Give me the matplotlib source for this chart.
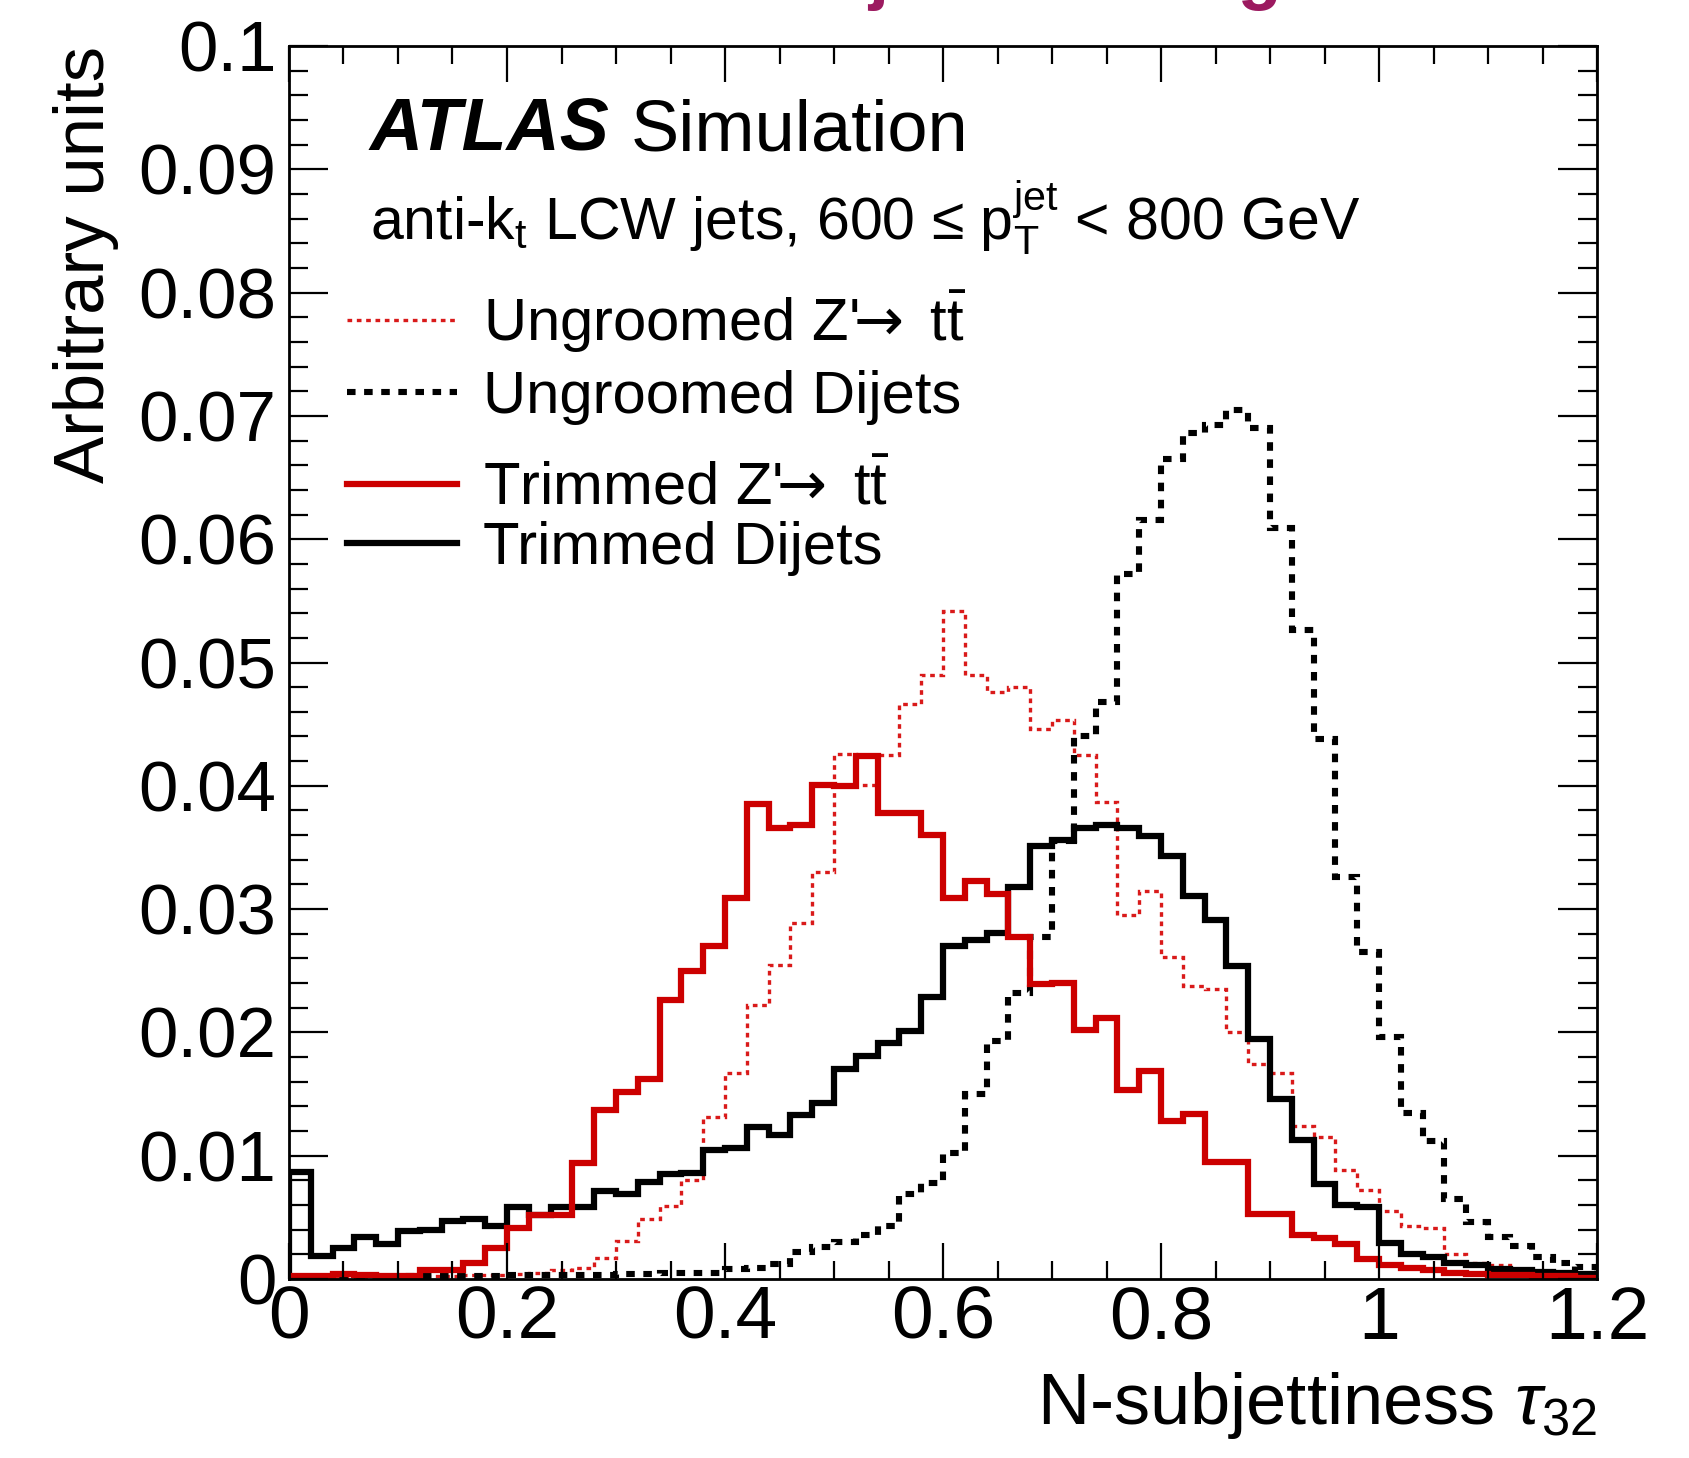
"""ATLAS simulation: N-subjettiness tau32 for trimmed and ungroomed jets"""

import numpy as np
import matplotlib
matplotlib.use('Agg')
import matplotlib.pyplot as plt
from matplotlib.lines import Line2D
from matplotlib.ticker import MultipleLocator, FuncFormatter

plt.rcParams['font.family'] = ['Liberation Sans', 'DejaVu Sans']
plt.rcParams['mathtext.fontset'] = 'custom'
plt.rcParams['mathtext.rm'] = 'Liberation Sans'
plt.rcParams['mathtext.it'] = 'Liberation Sans:italic'
plt.rcParams['mathtext.bf'] = 'Liberation Sans:bold'
plt.rcParams['mathtext.sf'] = 'DejaVu Sans'  # used for the arrow only

# 60 bins of width 0.02 in tau32
bin_edges = np.linspace(0.0, 1.2, 61)

trimmed_dijets = [
    0.0087, 0.0019, 0.0025, 0.0034, 0.0028, 0.0039, 0.0040, 0.0047, 0.0049, 0.0043,
    0.0058, 0.0052, 0.0058, 0.0058, 0.0071, 0.0069, 0.0079, 0.0085, 0.0086, 0.0105,
    0.0106, 0.0123, 0.0117, 0.0133, 0.0143, 0.0170, 0.0181, 0.0191, 0.0201, 0.0229,
    0.0270, 0.0275, 0.0281, 0.0318, 0.0351, 0.0356, 0.0366, 0.0368, 0.0366, 0.0359,
    0.0343, 0.0311, 0.0291, 0.0254, 0.0195, 0.0146, 0.0113, 0.0077, 0.0060, 0.0058,
    0.0029, 0.0020, 0.0018, 0.0013, 0.0011, 0.0008, 0.0007, 0.0006, 0.0005, 0.0004,
]

trimmed_zprime = [
    0.0002, 0.0002, 0.0004, 0.0003, 0.0002, 0.0002, 0.0007, 0.0007, 0.0013, 0.0025,
    0.0041, 0.0052, 0.0052, 0.0094, 0.0137, 0.0152, 0.0162, 0.0226, 0.0250, 0.0270,
    0.0309, 0.0385, 0.0366, 0.0368, 0.0401, 0.0400, 0.0424, 0.0378, 0.0378, 0.0360,
    0.0309, 0.0323, 0.0312, 0.0277, 0.0239, 0.0240, 0.0202, 0.0212, 0.0153, 0.0169,
    0.0128, 0.0134, 0.0095, 0.0095, 0.0053, 0.0053, 0.0036, 0.0033, 0.0028, 0.0016,
    0.0011, 0.0009, 0.0007, 0.0005, 0.0004, 0.0003, 0.0003, 0.0002, 0.0002, 0.0001,
]

ungroomed_zprime = [
    0.0001, 0.0001, 0.0001, 0.0001, 0.0001, 0.0002, 0.0002, 0.0002, 0.0003, 0.0003,
    0.0004, 0.0005, 0.0007, 0.0009, 0.0017, 0.0031, 0.0049, 0.0059, 0.0080, 0.0131,
    0.0167, 0.0222, 0.0255, 0.0289, 0.0330, 0.0426, 0.0401, 0.0425, 0.0466, 0.0490,
    0.0542, 0.0490, 0.0476, 0.0480, 0.0446, 0.0453, 0.0425, 0.0387, 0.0295, 0.0315,
    0.0261, 0.0238, 0.0235, 0.0200, 0.0174, 0.0167, 0.0124, 0.0115, 0.0088, 0.0072,
    0.0055, 0.0043, 0.0041, 0.0020, 0.0013, 0.0011, 0.0008, 0.0006, 0.0004, 0.0003,
]

ungroomed_dijets = [
    0.0001, 0.0001, 0.0001, 0.0001, 0.0001, 0.0002, 0.0002, 0.0002, 0.0002, 0.0002,
    0.0003, 0.0003, 0.0003, 0.0003, 0.0003, 0.0004, 0.0004, 0.0005, 0.0005, 0.0005,
    0.0008, 0.0009, 0.0012, 0.0022, 0.0026, 0.0030, 0.0036, 0.0043, 0.0069, 0.0078,
    0.0102, 0.0150, 0.0193, 0.0232, 0.0277, 0.0355, 0.0440, 0.0468, 0.0572, 0.0616,
    0.0665, 0.0686, 0.0693, 0.0705, 0.0690, 0.0609, 0.0526, 0.0438, 0.0326, 0.0265,
    0.0196, 0.0135, 0.0112, 0.0065, 0.0046, 0.0034, 0.0027, 0.0018, 0.0013, 0.0010,
]

ZTT = r"Z'$\!\!\mathsf{\rightarrow}$ t$\bar{\mathrm{t}}$"
labels = {
    'ungroomed_zprime': "Ungroomed " + ZTT,
    'ungroomed_dijets': "Ungroomed Dijets",
    'trimmed_zprime': "Trimmed " + ZTT,
    'trimmed_dijets': "Trimmed Dijets",
}

RED = '#cc0000'
RED_DOT = '#d91a1a'


def style_axes(ax):
    """ROOT-like frame: ticks inside on all four sides"""
    for spine in ax.spines.values():
        spine.set_linewidth(2.0)

    ax.set_xlim(0, 1.2)
    ax.set_ylim(0, 0.1)
    ax.xaxis.set_major_locator(MultipleLocator(0.2))
    ax.xaxis.set_minor_locator(MultipleLocator(0.05))
    ax.yaxis.set_major_locator(MultipleLocator(0.01))
    ax.yaxis.set_minor_locator(MultipleLocator(0.002))
    fmt = FuncFormatter(lambda v, pos: f'{v:g}')
    ax.xaxis.set_major_formatter(fmt)
    ax.yaxis.set_major_formatter(fmt)

    ax.tick_params(which='both', direction='in', top=True, right=True, width=1.6)
    ax.tick_params(axis='x', which='major', length=26, pad=4, labelsize=54)
    ax.tick_params(axis='x', which='minor', length=13)
    ax.tick_params(axis='y', which='major', length=28, pad=9, labelsize=51)
    ax.tick_params(axis='y', which='minor', length=14)


fig = plt.figure(figsize=(16.9, 14.58), dpi=100)
ax = fig.add_axes([0.171, 0.1228, 0.774, 0.8456])
style_axes(ax)

solid_lw = 4.5
dot_lw = 4.4
ax.stairs(ungroomed_zprime, bin_edges, color=RED_DOT, lw=2.4,
          linestyle=(0, (1.4, 1.4)))
ax.stairs(ungroomed_dijets, bin_edges, color='black', lw=dot_lw,
          linestyle=(0, (1.4, 1.4)))
ax.stairs(trimmed_dijets, bin_edges, color='black', lw=solid_lw)
ax.stairs(trimmed_zprime, bin_edges, color=RED, lw=solid_lw)

ax.set_xlabel(r'N-subjettiness $\tau_{32}$', fontsize=52, loc='right', labelpad=12)
ax.set_ylabel('Arbitrary units', fontsize=51, loc='top', labelpad=14)

# labels
ax.text(0.0618, 0.915, 'ATLAS', transform=ax.transAxes, fontsize=53,
        fontweight='bold', fontstyle='italic', va='baseline')
ax.text(0.2611, 0.915, 'Simulation', transform=ax.transAxes, fontsize=52,
        va='baseline')
ax.text(0.0618, 0.8435,
        'anti-k$_\\mathrm{t}$ LCW jets, 600 \u2264 p$_\\mathrm{T}^\\mathrm{jet}$ < 800 GeV',
        transform=ax.transAxes, fontsize=42.5, va='baseline')

# legends: two blocks, like the original
handles_a = [Line2D([], [], color=RED_DOT, lw=2.4, linestyle=(0, (1.4, 1.4))),
             Line2D([], [], color='black', lw=dot_lw, linestyle=(0, (1.4, 1.4)))]
handles_b = [Line2D([], [], color=RED, lw=solid_lw),
             Line2D([], [], color='black', lw=solid_lw)]
leg_kw = dict(loc='center left', frameon=False, fontsize=43, handlelength=1.85,
              handletextpad=0.42, borderpad=0, borderaxespad=0)
leg_a = ax.legend(handles_a, [labels['ungroomed_zprime'], labels['ungroomed_dijets']],
                  bbox_to_anchor=(0.0443, 0.748), labelspacing=0.25, **leg_kw)
ax.add_artist(leg_a)
ax.legend(handles_b, [labels['trimmed_zprime'], labels['trimmed_dijets']],
          bbox_to_anchor=(0.0443, 0.6165), labelspacing=0.08, **leg_kw)

# slide title, cut off at the top edge of the picture
fig.text(868 / 1690, 1.0 + 4 / 1458, 'jet trimming', fontsize=52,
         fontweight='bold', color='#9c1a60', va='baseline')

fig.savefig('out.png', dpi=100)
plt.close(fig)
